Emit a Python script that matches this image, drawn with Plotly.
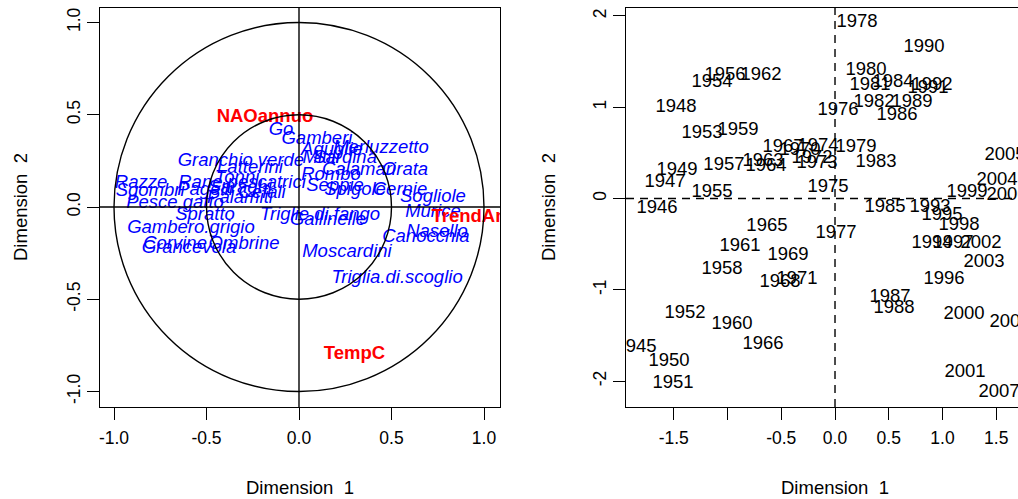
import plotly.graph_objects as go

# ---------------- data ----------------
species_names = ["Go", "Gamberi", "Aguglie", "Merluzzetto", "Mitili", "Sardina",
                 "Calamari", "Orata", "Rombo", "Seppie", "Spigole", "Cernie",
                 "Sogliole", "Murice", "Nasello", "Canocchia", "Moscardini",
                 "Triglia.di.scoglio", "Gallinelle", "Triglie.di.fango",
                 "Granchio verde", "Latterini", "Tonni", "Razze", "Rane.pescatrici",
                 "Sgombri", "Pagelli", "Saraghi", "Cefali", "Pesce.gatto", "Palamiti",
                 "Spratto", "Gambero.grigio", "Corvine", "Grancevola", "Ombrine"]
species_x = [-0.097, 0.097, 0.178, 0.443, 0.119, 0.249,
             0.324, 0.573, 0.173, 0.195, 0.303, 0.546,
             0.724, 0.724, 0.746, 0.686, 0.259,
             0.530, 0.157, 0.114,
             -0.314, -0.265, -0.335, -0.854, -0.308,
             -0.805, -0.508, -0.319, -0.200, -0.670, -0.319,
             -0.508, -0.584, -0.670, -0.595, -0.297]
species_y = [0.417, 0.369, 0.309, 0.320, 0.266, 0.266,
             0.201, 0.201, 0.173, 0.114, 0.092, 0.092,
             0.054, -0.027, -0.136, -0.163, -0.244,
             -0.385, -0.070, -0.043,
             0.249, 0.211, 0.157, 0.130, 0.130,
             0.087, 0.092, 0.103, 0.076, 0.022, 0.049,
             -0.043, -0.114, -0.200, -0.222, -0.200]

supp_names = ["NAOannuo", "TempC", "TrendAnno"]
supp_x = [-0.184, 0.30, 0.98]
supp_y = [0.488, -0.80, -0.054]

circle_radii = [1.0, 0.5]

years = list(range(1945, 2009))
year_x = [-1.851, -1.656, -1.581, -1.479, -1.470, -1.544, -1.507, -1.395, -1.237, -1.144,
          -1.144, -1.023, -1.033, -1.051, -0.902, -0.958, -0.884, -0.688, -0.670, -0.642,
          -0.633, -0.670, -0.484, -0.512, -0.437, -0.326, -0.353, -0.214, -0.167, -0.158,
          -0.065, 0.028, 0.009, 0.205, 0.195, 0.288, 0.326, 0.363, 0.381, 0.540,
          0.465, 0.577, 0.512, 0.549, 0.716, 0.828, 0.865, 0.902, 0.884, 0.902,
          0.995, 1.014, 1.098, 1.153, 1.228, 1.200, 1.209, 1.358, 1.386, 1.507,
          1.581, 1.600, 1.526, 1.628]
year_y = [-1.626, -0.104, 0.181, 1.002, 0.312, -1.785, -2.026, -1.254, 0.717, 1.276,
          0.071, 1.353, 0.367, -0.772, 0.750, -1.380, -0.520, 1.353, 0.411, 0.356,
          -0.301, -1.594, 0.564, -0.915, -0.619, 0.531, -0.882, 0.444, 0.389, 0.575,
          0.126, 0.969, -0.378, 1.933, 0.564, 1.407, 1.243, 1.057, 0.400, 1.276,
          -0.093, 0.915, -1.079, -1.199, 1.057, 1.659, 1.210, 1.243, -0.093, -0.487,
          -0.181, -0.882, -0.487, -0.290, 0.071, -1.265, -1.900, -0.487, -0.695, 0.203,
          0.476, 0.038, -2.119, -1.353]

left_ticks = [-1.0, -0.5, 0.0, 0.5, 1.0]
left_ticktext = ["-1.0", "-0.5", "0.0", "0.5", "1.0"]
right_xticks = [-1.5, -1.0, -0.5, 0.0, 0.5, 1.0, 1.5]
right_xticktext = ["-1.5", "", "-0.5", "0.0", "0.5", "1.0", "1.5"]
right_yticks = [-2, -1, 0, 1, 2]
right_yticktext = ["-2", "-1", "0", "1", "2"]

# ---------------- figure ----------------
W, H = 1018, 499
FONT = "Liberation Sans, Arial, sans-serif"
FS = 18.5

fig = go.Figure()

fig.add_trace(go.Scatter(
    x=species_x, y=species_y, text=species_names, mode="text",
    textposition="middle center",
    textfont=dict(family=FONT, size=FS, color="#0000FF", style="italic"),
    xaxis="x", yaxis="y", hoverinfo="skip", showlegend=False, cliponaxis=True))

fig.add_trace(go.Scatter(
    x=supp_x, y=supp_y, text=supp_names, mode="text",
    textposition="middle center",
    textfont=dict(family=FONT, size=FS, color="#FF0000", weight="bold"),
    xaxis="x", yaxis="y", hoverinfo="skip", showlegend=False, cliponaxis=True))

fig.add_trace(go.Scatter(
    x=year_x, y=year_y, text=[str(v) for v in years], mode="text",
    textposition="middle center",
    textfont=dict(family=FONT, size=FS, color="#000000"),
    xaxis="x2", yaxis="y2", hoverinfo="skip", showlegend=False, cliponaxis=True))

shapes = []
for r in circle_radii:
    shapes.append(dict(type="circle", xref="x", yref="y", x0=-r, y0=-r, x1=r, y1=r,
                       line=dict(color="#000", width=1.4), layer="above"))
shapes.append(dict(type="line", xref="x", yref="y domain", x0=0, x1=0, y0=0, y1=1,
                   line=dict(color="#000", width=1.4)))
shapes.append(dict(type="line", xref="x domain", yref="y", x0=0, x1=1, y0=0, y1=0,
                   line=dict(color="#000", width=1.4)))
shapes.append(dict(type="line", xref="x2", yref="y2 domain", x0=0, x1=0, y0=0, y1=1,
                   line=dict(color="#000", width=1.4, dash="8px,6px")))
shapes.append(dict(type="line", xref="x2 domain", yref="y2", x0=0, x1=1, y0=0, y1=0,
                   line=dict(color="#000", width=1.4, dash="8px,6px")))

ydom = [1 - 407 / H, 1 - 8 / H]
tickfont = dict(family=FONT, size=17.5, color="#000")
common = dict(showgrid=False, zeroline=False, showline=True, linecolor="#000",
              linewidth=1.4, ticks="outside", ticklen=12, tickwidth=1.4,
              tickcolor="#000", tickfont=tickfont, tickmode="array")

fig.update_layout(
    width=W, height=H, margin=dict(l=0, r=0, t=0, b=0),
    paper_bgcolor="white", plot_bgcolor="white",
    xaxis=dict(domain=[100 / W, 500 / W], range=[-1.0757, 1.0865],
               tickvals=left_ticks, ticktext=left_ticktext, mirror=True,
               anchor="y", ticklabelstandoff=3, **common),
    yaxis=dict(domain=ydom, range=[-1.0840, 1.0786],
               tickvals=left_ticks, ticktext=left_ticktext, mirror=True,
               tickangle=-90, anchor="x", **common),
    xaxis2=dict(domain=[626 / W, 1.0], range=[-1.944, 1.702],
                tickvals=right_xticks, ticktext=right_xticktext, mirror=True,
                anchor="y2", ticklabelstandoff=3, **common),
    yaxis2=dict(domain=ydom, range=[-2.2837, 2.0865],
                tickvals=right_yticks, ticktext=right_yticktext, mirror=False,
                tickangle=-90, anchor="x2", **common),
    shapes=shapes,
    annotations=[
        dict(text="Dimension  1", x=300 / W, y=1 - 487 / H, xref="paper", yref="paper",
             showarrow=False, font=dict(family=FONT, size=FS, color="#000"),
             xanchor="center", yanchor="middle"),
        dict(text="Dimension  1", x=835 / W, y=1 - 487 / H, xref="paper", yref="paper",
             showarrow=False, font=dict(family=FONT, size=FS, color="#000"),
             xanchor="center", yanchor="middle"),
        dict(text="Dimension  2", x=20 / W, y=1 - 207 / H, xref="paper", yref="paper",
             showarrow=False, textangle=-90, font=dict(family=FONT, size=FS, color="#000"),
             xanchor="center", yanchor="middle"),
        dict(text="Dimension  2", x=548 / W, y=1 - 207 / H, xref="paper", yref="paper",
             showarrow=False, textangle=-90, font=dict(family=FONT, size=FS, color="#000"),
             xanchor="center", yanchor="middle"),
    ],
)

fig.write_html("out.html",
               config={"displayModeBar": False},
               post_script="document.body.style.margin='0px';"
                           "document.body.style.overflow='hidden';")
